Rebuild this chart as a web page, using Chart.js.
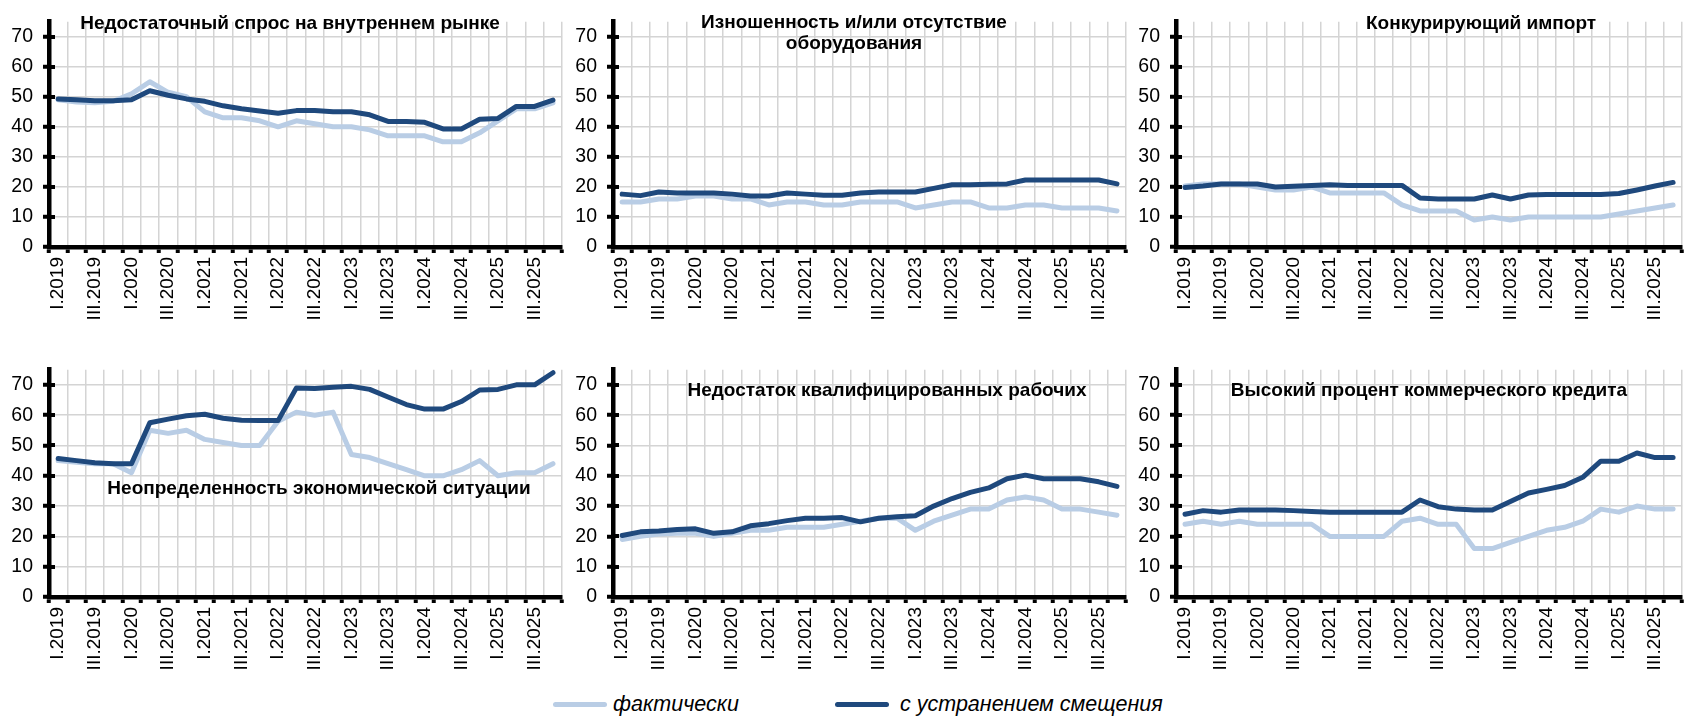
<!DOCTYPE html>
<html>
<head>
<meta charset="utf-8">
<script src="https://cdn.jsdelivr.net/npm/chart.js@4.4.1/dist/chart.umd.min.js"></script>
<style>
  body { margin: 0; width: 1700px; height: 717px; background: #fff; position: relative; overflow: hidden;
         font-family: "Liberation Sans", Arial, sans-serif; }
  .panel { position: absolute; }
  .title { position: absolute; transform: translate(-50%, -50%); font-weight: bold; font-size: 19px;
           white-space: nowrap; text-align: center; line-height: 21px; color: #000; z-index: 5; }
  .legend-line { position: absolute; height: 5px; border-radius: 3px; }
  .legend-text { position: absolute; font-style: italic; font-size: 21.5px; color: #000; transform: translateY(-50%); white-space: nowrap; }
</style>
</head>
<body>

<script>
// quarters on the x axis
const quarters = [
  'I.2019', 'II.2019', 'III.2019', 'IV.2019',
  'I.2020', 'II.2020', 'III.2020', 'IV.2020',
  'I.2021', 'II.2021', 'III.2021', 'IV.2021',
  'I.2022', 'II.2022', 'III.2022', 'IV.2022',
  'I.2023', 'II.2023', 'III.2023', 'IV.2023',
  'I.2024', 'II.2024', 'III.2024', 'IV.2024',
  'I.2025', 'II.2025', 'III.2025', 'IV.2025'
];

const seriesNames = ['фактически', 'с устранением смещения'];

// Недостаточный спрос на внутреннем рынке
const demandActual   = [49, 48.3, 48, 48.5, 51, 55, 51.5, 50, 45, 43, 43, 42, 40, 42, 41, 40, 40, 39, 37, 37, 37, 35, 35, 38, 42, 46, 46, 48];
const demandAdjusted = [49.3, 49, 48.7, 48.7, 49, 52, 50.5, 49.3, 48.5, 47, 46, 45.3, 44.5, 45.4, 45.4, 45, 45, 44, 41.8, 41.8, 41.5, 39.3, 39.3, 42.5, 42.8, 46.8, 46.8, 48.9];

// Изношенность и/или отсутствие оборудования
const equipActual   = [15, 15, 16, 16, 17, 17, 16, 16, 14, 15, 15, 14, 14, 15, 15, 15, 13, 14, 15, 15, 13, 13, 14, 14, 13, 13, 13, 12];
const equipAdjusted = [17.6, 17.1, 18.3, 18, 18, 18, 17.6, 17, 17, 18, 17.6, 17.2, 17.2, 18, 18.3, 18.3, 18.3, 19.5, 20.7, 20.7, 20.9, 21, 22.3, 22.3, 22.3, 22.3, 22.3, 21];

// Конкурирующий импорт
const importActual   = [20.3, 21, 21, 21, 20, 19, 19, 20, 18, 18, 18, 18, 14, 12, 12, 12, 9, 10, 9, 10, 10, 10, 10, 10, 11, 12, 13, 14];
const importAdjusted = [19.8, 20.3, 21, 21, 21, 20, 20.2, 20.5, 20.7, 20.5, 20.5, 20.5, 20.5, 16.3, 16, 16, 16, 17.3, 16, 17.3, 17.5, 17.5, 17.5, 17.5, 17.8, 19, 20.3, 21.5];

// Неопределенность экономической ситуации
const uncertActual   = [45, 44.5, 44, 44, 41, 55, 54, 55, 52, 51, 50, 50, 58, 61, 60, 61, 47, 46, 44, 42, 40, 40, 42, 45, 40, 41, 41, 44];
const uncertAdjusted = [45.7, 45, 44.3, 44, 44, 57.5, 58.7, 59.8, 60.3, 59, 58.3, 58.2, 58.2, 69, 68.8, 69.2, 69.5, 68.5, 66, 63.5, 62, 62, 64.5, 68.3, 68.5, 70, 70, 74];

// Недостаток квалифицированных рабочих
const laborActual   = [19, 20, 20.8, 21, 21, 20, 21, 22, 22, 23, 23, 23, 24, 25, 26, 26, 22, 25, 27, 29, 29, 32, 33, 32, 29, 29, 28, 27];
const laborAdjusted = [20.3, 21.5, 21.8, 22.3, 22.5, 21, 21.5, 23.5, 24.2, 25.2, 26, 26, 26.2, 24.8, 26, 26.5, 26.8, 30, 32.5, 34.5, 36, 39, 40.2, 39, 39, 39, 38, 36.5];

// Высокий процент коммерческого кредита
const creditActual   = [24, 25, 24, 25, 24, 24, 24, 24, 20, 20, 20, 20, 25, 26, 24, 24, 16, 16, 18, 20, 22, 23, 25, 29, 28, 30, 29, 29];
const creditAdjusted = [27.3, 28.5, 28, 28.7, 28.7, 28.7, 28.5, 28.2, 28, 28, 28, 28, 28, 32, 29.8, 29, 28.7, 28.7, 31.5, 34.3, 35.5, 36.8, 39.5, 44.8, 44.8, 47.5, 46, 46];

const yTicks = [0, 10, 20, 30, 40, 50, 60, 70];

const colorActual = '#b9cde5';
const colorAdjusted = '#1f497d';
const fontFamily = '"Liberation Sans", Arial, sans-serif';

// grid of panels: column / row placement
const cols = [
  { left: 0,    width: 580, padRight: 13 },
  { left: 564,  width: 580, padRight: 13 },
  { left: 1127, width: 573, padRight: 6 }
];
const rows = [
  { top: 0,   height: 330 },
  { top: 348, height: 332 }
];

const panels = [
  { col: 0, row: 0, actual: demandActual,   adjusted: demandAdjusted,
    title: ['Недостаточный спрос на внутреннем рынке'], tx: 290, ty: 22 },
  { col: 1, row: 0, actual: equipActual,    adjusted: equipAdjusted,
    title: ['Изношенность и/или отсутствие', 'оборудования'], tx: 854, ty: 32 },
  { col: 2, row: 0, actual: importActual,   adjusted: importAdjusted,
    title: ['Конкурирующий импорт'], tx: 1481, ty: 22 },
  { col: 0, row: 1, actual: uncertActual,   adjusted: uncertAdjusted,
    title: ['Неопределенность экономической ситуации'], tx: 319, ty: 487 },
  { col: 1, row: 1, actual: laborActual,    adjusted: laborAdjusted,
    title: ['Недостаток квалифицированных рабочих'], tx: 887, ty: 389 },
  { col: 2, row: 1, actual: creditActual,   adjusted: creditAdjusted,
    title: ['Высокий процент коммерческого кредита'], tx: 1429, ty: 389 }
];

// black stubs on the inner side of the y axis
const innerTicks = {
  id: 'innerTicks',
  afterDraw(chart) {
    const { ctx, chartArea } = chart;
    const y = chart.scales.y;
    ctx.save();
    ctx.fillStyle = '#000';
    y.ticks.forEach(t => {
      const py = Math.round(y.getPixelForValue(t.value));
      ctx.fillRect(chartArea.left, py - 2, 6, 4);
    });
    ctx.restore();
  }
};

panels.forEach(p => {
  const c = cols[p.col], r = rows[p.row];
  const box = document.createElement('div');
  box.className = 'panel';
  box.style.left = c.left + 'px';
  box.style.top = r.top + 'px';
  const canvas = document.createElement('canvas');
  canvas.width = c.width;
  canvas.height = r.height;
  box.appendChild(canvas);
  document.body.appendChild(box);

  const t = document.createElement('div');
  t.className = 'title';
  t.style.left = p.tx + 'px';
  t.style.top = p.ty + 'px';
  t.innerHTML = p.title.join('<br>');
  document.body.appendChild(t);

  new Chart(canvas.getContext('2d'), {
    type: 'line',
    data: {
      labels: quarters,
      datasets: [
        { label: seriesNames[1], data: p.adjusted, borderColor: colorAdjusted, borderWidth: 5,
          pointRadius: 0, tension: 0, fill: false, borderJoinStyle: 'round', borderCapStyle: 'round' },
        { label: seriesNames[0], data: p.actual, borderColor: colorActual, borderWidth: 5,
          pointRadius: 0, tension: 0, fill: false, borderJoinStyle: 'round', borderCapStyle: 'round' }
      ]
    },
    options: {
      responsive: false,
      animation: false,
      devicePixelRatio: 1,
      layout: { padding: { top: 9, right: c.padRight, left: 0, bottom: 0 } },
      plugins: { legend: { display: false }, tooltip: { enabled: false } },
      scales: {
        x: {
          offset: true,
          grid: { offset: true, color: '#d4d4d4', lineWidth: 1.5, tickColor: '#000', tickWidth: 4, tickLength: 6 },
          border: { color: '#000', width: 4.5 },
          ticks: {
            autoSkip: false, maxRotation: 90, minRotation: 90, padding: 4, color: '#000',
            font: { size: 19, family: fontFamily },
            callback: (v, i) => (i % 2 === 0 ? quarters[i] : '')
          },
          afterFit: s => { s.height = 83; }
        },
        y: {
          min: 0, max: 75,
          grid: { color: '#d4d4d4', lineWidth: 1.5, tickColor: '#000', tickWidth: 4, tickLength: 6 },
          border: { color: '#000', width: 4.5 },
          ticks: { stepSize: 10, padding: 10, color: '#000', font: { size: 19.5, family: fontFamily } },
          afterBuildTicks: s => { s.ticks = yTicks.map(v => ({ value: v })); },
          afterFit: s => { s.width = 49; }
        }
      }
    },
    plugins: [innerTicks]
  });
});

// legend
const legendItems = [
  { color: colorActual,   text: seriesNames[0], lineX: 553, textX: 613 },
  { color: colorAdjusted, text: seriesNames[1], lineX: 835, textX: 900 }
];
legendItems.forEach(it => {
  const ln = document.createElement('div');
  ln.className = 'legend-line';
  ln.style.left = it.lineX + 'px';
  ln.style.top = '702px';
  ln.style.width = '54px';
  ln.style.background = it.color;
  document.body.appendChild(ln);
  const tx = document.createElement('div');
  tx.className = 'legend-text';
  tx.style.left = it.textX + 'px';
  tx.style.top = '704px';
  tx.textContent = it.text;
  document.body.appendChild(tx);
});
</script>
</body>
</html>
